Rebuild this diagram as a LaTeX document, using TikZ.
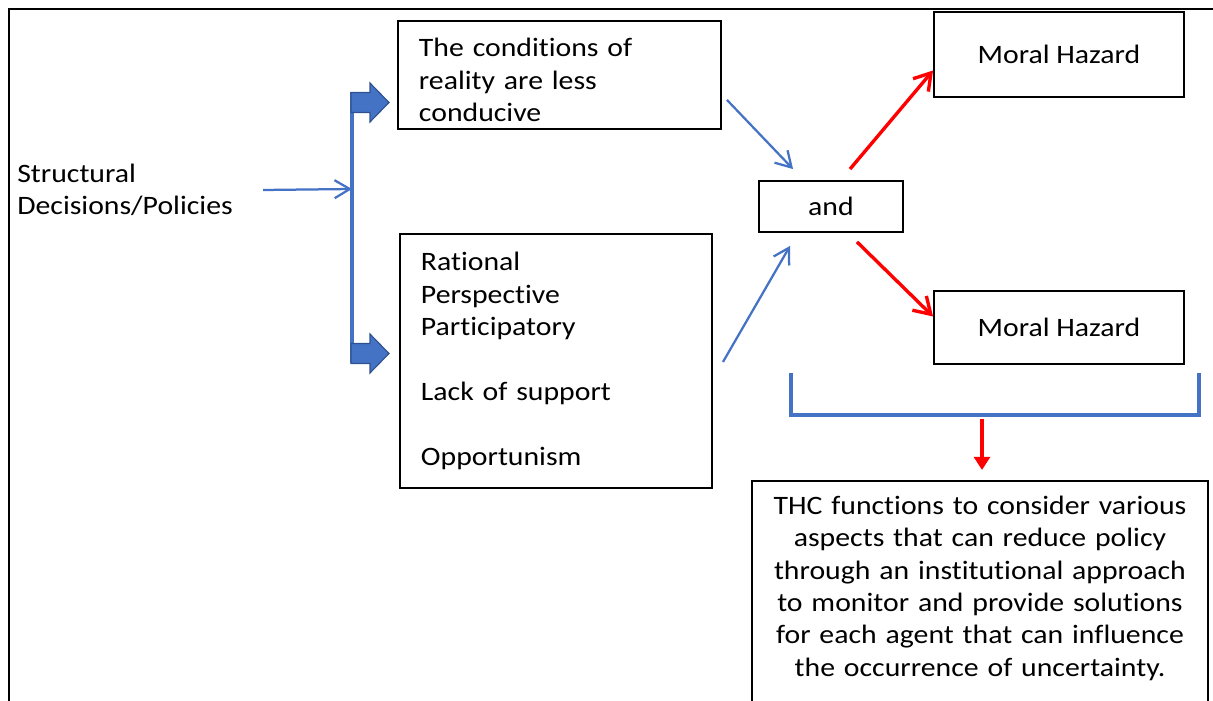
\documentclass[tikz,border=0pt]{standalone}
\usepackage{fontspec}
\setmainfont{Carlito}[FakeStretch=1.12,Ligatures=NoCommon]
\usetikzlibrary{arrows.meta,calc}

\definecolor{wordblue}{HTML}{4472C4}
\definecolor{wordbluedark}{HTML}{2F528F}
\definecolor{wordred}{HTML}{FF0000}

\begin{document}
\begin{tikzpicture}[x=0.025cm,y=-0.025cm,
    every node/.style={font=\fontsize{18.9}{23}\selectfont},
    box/.style={draw=black,line width=1.3pt,inner sep=0pt},
    leftbox/.style={box,align=left,inner xsep=0.525cm},
    bluearrow/.style={draw=wordblue,line width=1.6pt,-{Straight Barb[length=0.38cm,width=0.45cm]}},
    redarrow/.style={draw=wordred,line width=2.4pt,-{Straight Barb[length=0.4cm,width=0.5cm]}},
    reddown/.style={draw=wordred,line width=2.2pt,-{Triangle[length=0.33cm,width=0.4cm]}},
    blockarrow/.style={fill=wordblue,draw=wordbluedark,line width=0.8pt},
    spine/.style={draw=wordblue,line width=2.2pt}]

\clip (0,0) rectangle (1213,701);

% outer frame, cut off at right and bottom
\draw[line width=1.3pt] (1240,9) -- (9,9) -- (9,730);

\node[anchor=west,align=left,inner xsep=0pt] (struct) at (17,190) {Structural\\Decisions/Policies};

\node[leftbox,text width=7.025cm,minimum height=2.7cm] (cond) at (559.5,75)
    {\rule{0pt}{0.72cm}The conditions of\\reality are less\\conducive};
\node[leftbox,text width=6.75cm,minimum height=6.35cm] (persp) at (556,361)
    {Rational\\Perspective\\Participatory\\[0.8125cm]Lack of support\\[0.8125cm]Opportunism};

\node[box,minimum width=3.6cm,minimum height=1.275cm] (and) at (831,206.5) {and};
\node[box,minimum width=6.25cm,minimum height=2.125cm] (mh1) at (1059,54.5) {Moral Hazard};
\node[box,minimum width=6.25cm,minimum height=1.825cm] (mh2) at (1059,327.5) {Moral Hazard};

\node[box,anchor=north,minimum width=11.4cm,text width=10.75cm,align=center,inner ysep=0.375cm] (thc) at (980,480)
    {THC functions to consider various\\aspects that can reduce policy\\through an institutional approach\\to monitor and provide solutions\\for each agent that can influence\\the occurrence of uncertainty.\\[1cm]\mbox{}};

% spine with the two block arrows
\coordinate (spinetop) at (352,92);
\coordinate (spinebot) at (352,363);
\coordinate (spinemid) at (352,189);
\draw[spine] (spinetop) -- (spinebot);
\foreach \y in {102.5,353.5}
    \filldraw[blockarrow] (351,\y-10) -- (370,\y-10) -- (370,\y-19.5) -- (389,\y)
        -- (370,\y+19.5) -- (370,\y+10) -- (351,\y+10) -- cycle;

\draw[bluearrow] ($(struct.east)+(30,0)$) -- (spinemid);

\draw[bluearrow] ($(cond.south east)+(5,-30)$) -- ($(and.north west)+(35,-11)$);
\draw[bluearrow] ($(persp.east)+(10,1)$) -- ($(and.south west)+(32,13)$);

\draw[redarrow] ($(and.north)+(19,-11)$) -- ($(mh1.west)+(0,16)$);
\draw[redarrow] ($(and.south)+(26,9)$) -- ($(mh2.west)+(0,-11)$);

% bracket under the hazards
\coordinate (brl) at (791,373);
\coordinate (brr) at (1199,373);
\coordinate (brmid) at (982,415);
\draw[spine] (brl) |- (brmid) -| (brr);
\draw[reddown] ($(brmid)+(0,4)$) -- ($(thc.north)+(2,-10)$);

\end{tikzpicture}
\end{document}
